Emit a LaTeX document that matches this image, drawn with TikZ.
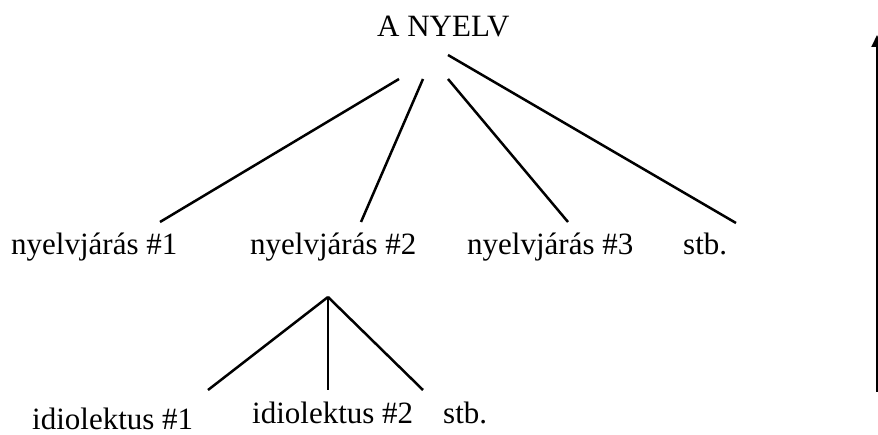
\documentclass[tikz,border=0pt]{standalone}
\usepackage{fontspec}
\setmainfont{Liberation Serif}
\usetikzlibrary{arrows.meta}
\begin{document}
\begin{tikzpicture}[x=1pt,y=-1pt,
  lbl/.style={anchor=base west,inner sep=0pt,font=\fontsize{31}{37}\selectfont},
  edge/.style={line width=2.5pt}]
\useasboundingbox (0,0) rectangle (878,435);
\node[lbl] (root) at (377,37) {A NYELV};
\node[lbl] (d1) at (11,255) {nyelvjárás \#1};
\node[lbl] (d2) at (250,255) {nyelvjárás \#2};
\node[lbl] (d3) at (467,255) {nyelvjárás \#3};
\node[lbl] (d4) at (683,255) {stb.};
\node[lbl] (i1) at (32,429) {idiolektus \#1};
\node[lbl] (i2) at (252,423) {idiolektus \#2};
\node[lbl] (i3) at (443,423) {stb.};
% top-level connectors
\coordinate (r1) at (399,79);
\coordinate (r2) at (423,79);
\coordinate (r3) at (448,79);
\coordinate (r4) at (448,55);
\coordinate (e1) at (160,222);
\coordinate (e2) at (361,222);
\coordinate (e3) at (568,222);
\coordinate (e4) at (736,223);
\draw[edge] (r1) -- (e1);
\draw[edge] (r2) -- (e2);
\draw[edge] (r3) -- (e3);
\draw[edge] (r4) -- (e4);
% second-level connectors
\coordinate (apex) at (328,297);
\coordinate (f1) at (208,390);
\coordinate (f2) at (328,390);
\coordinate (f3) at (423,390);
\draw[edge] (apex) -- (f1);
\draw[edge] (apex) -- (f2);
\draw[edge] (apex) -- (f3);
% right arrow
\coordinate (abot) at (877,392);
\coordinate (atop) at (877,35);
\draw[line width=2.2pt,-{Triangle[length=12pt,width=11pt]}] (abot) -- (atop);
\end{tikzpicture}
\end{document}
